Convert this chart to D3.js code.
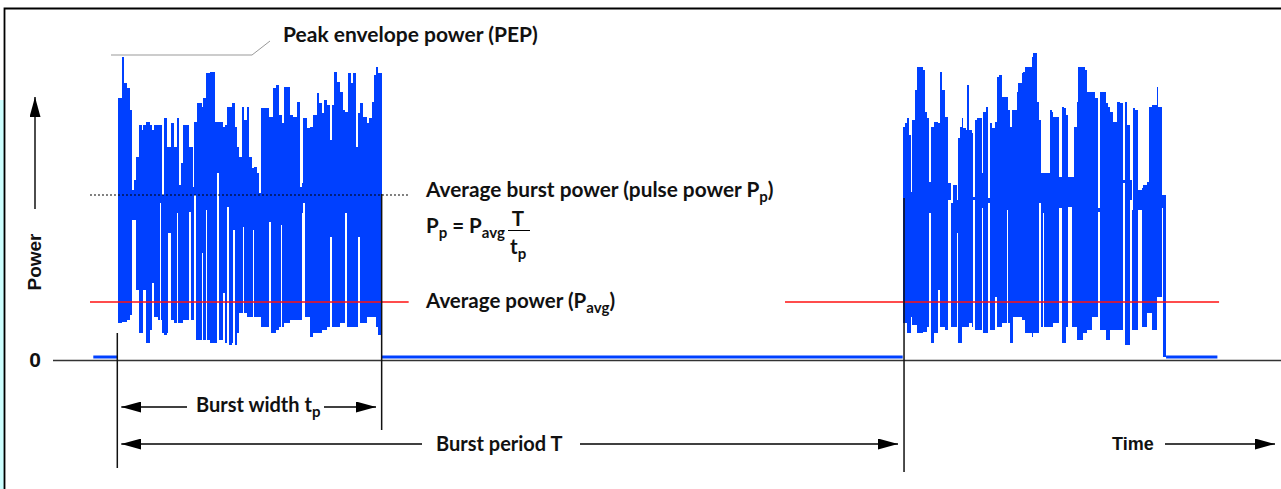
<!DOCTYPE html>
<html>
<head>
<meta charset="utf-8">
<script src="https://cdn.jsdelivr.net/npm/d3@7"></script>
<style>
body { margin: 0; background: #fff; }
svg { display: block; }
.lbl { font-family: Lato, "Open Sans", sans-serif; font-weight: 700; fill: #111; }
.ax { font-family: "Liberation Sans", Arial, sans-serif; font-weight: 700; fill: #111; }
</style>
</head>
<body>
<script>
// time in samples, power in arbitrary units
var burstPeriod = 2356;
var burstStarts = [0, 2356];

var burst1Offset = [0,3,13,20,28,38,45,51,56,65,73,78,85,98,105,111,123,128,132,135,
  140,148,153,162,170,178,182,184,190,196,206,216,220,226,231,235,240,253,258,266,
  268,278,293,300,305,316,323,330,334,343,348,352,358,366,373,376,380,388,396,403,
  406,410,418,426,430,443,456,460,466,475,485,491,495,501,513,518,528,538,548,553,
  558,562,570,578,588,598,605,613,620,630,638,644,651,660,668,676,684,688,693,700,
  708,716,721,728,738,748,756,763,770,775,781,788,790];
var burst1Top = [80,785,910,830,815,750,510,540,610,705,690,705,715,705,690,705,705,705,705,495,
  725,640,640,710,640,725,725,525,590,705,705,640,640,520,715,715,770,760,785,860,
  860,865,715,715,715,700,705,760,760,770,770,700,640,610,760,760,720,760,610,575,
  575,580,560,500,755,755,730,730,815,825,735,735,710,820,820,735,730,775,520,530,
  725,725,695,700,735,800,770,740,780,765,660,765,865,835,805,750,745,745,860,830,
  860,640,740,770,730,710,725,775,855,880,860,860,860];
var burst1Bottom = [5,110,115,115,120,135,420,420,210,80,80,210,50,90,230,130,120,470,120,80,
  75,80,380,120,110,440,110,110,110,120,120,445,120,120,495,60,60,320,60,450,
  60,50,50,560,60,200,50,460,45,50,390,45,80,140,140,400,140,130,130,130,
  390,130,130,130,100,100,415,80,80,90,100,405,100,110,110,120,120,120,120,440,
  470,130,130,70,80,80,80,90,90,100,370,100,100,100,110,110,440,100,100,100,
  100,100,370,110,110,130,130,130,130,100,75,75,5];
var burst1Width = 793;

var burst2Offset = [0,2,7,12,19,25,29,37,44,62,67,72,80,85,95,107,112,117,127,137,
  144,152,162,166,172,177,182,190,194,200,207,212,216,222,237,242,250,257,262,267,
  277,282,289,297,302,312,317,322,327,332,342,347,357,362,367,377,387,392,402,409,
  414,420,425,442,447,452,460,470,477,484,490,497,507,515,522,527,542,547,552,562,
  567,577,587,592,600,610,617,622,632,642,652,662,667,674,682,687,692,697,707,717,
  722,732,740,747,754,762,767,777,782];
var burst2Top = [130,700,710,725,675,505,720,810,880,870,745,725,535,700,715,710,865,810,730,530,
  470,525,480,665,700,725,695,690,825,690,680,490,720,725,560,745,760,485,710,695,
  715,850,855,790,790,790,750,700,750,750,805,830,860,865,880,880,910,920,775,720,
  560,560,560,750,745,730,730,550,760,755,735,550,550,700,775,880,880,870,805,805,
  805,785,455,805,805,770,760,745,715,775,770,540,775,705,540,450,755,750,510,515,
  525,535,760,765,765,820,760,495,495];
var burst2Bottom = [10,110,110,80,80,130,105,105,80,85,85,100,440,50,80,210,100,100,90,480,
  100,100,380,50,50,100,100,100,100,110,100,480,90,90,455,80,80,470,90,90,
  190,100,100,110,110,450,110,50,50,130,130,130,120,120,80,80,70,80,80,470,
  100,440,100,100,100,110,110,455,50,50,100,460,100,100,60,60,80,80,90,90,
  130,130,445,90,90,60,60,90,90,90,90,530,45,45,480,90,90,90,450,100,
  100,140,140,90,90,190,190,455,10];
var burst2Width = 790;

var idleLevel = 9;
var idleSpans = [[-72, 0], [793, 2356], [3146, 3300]];
var avgBurstPower = 495;
var avgPower = 174;
var avgBurstSpan = [-82, 877];
var avgPowerSpans = [[-82, 874], [2003, 3305]];
var maxPower = 960;

var svgWidth = 1281;
var svgHeight = 489;

var svg = d3.select("body")
            .append("svg")
            .attr("width", svgWidth)
            .attr("height", svgHeight);

var x = d3.scaleLinear().domain([0, burstPeriod]).range([117.3, 902.7]);
var y = d3.scaleLinear().domain([0, maxPower]).range([360, 40]);

// frame
svg.append("rect").attr("x", 0).attr("y", 100).attr("width", 4).attr("height", 389).attr("fill", "#ccffff");
svg.append("path").attr("d", "M4.5,489V8.5H1281").attr("fill", "none")
   .attr("stroke", "#000").attr("stroke-width", 1.8);

var defs = svg.append("defs");
defs.append("marker")
    .attr("id", "head")
    .attr("markerUnits", "userSpaceOnUse")
    .attr("markerWidth", 20).attr("markerHeight", 11)
    .attr("refX", 20).attr("refY", 5.5)
    .attr("orient", "auto")
  .append("path").attr("d", "M0,0L20,5.5L0,11Z").attr("fill", "#000");

// zero line
svg.append("line")
   .attr("x1", 53).attr("x2", svgWidth)
   .attr("y1", y(0) + 0.5).attr("y2", y(0) + 0.5)
   .attr("stroke", "#333").attr("stroke-width", 1.5);

// idle level between bursts
svg.selectAll("line.idle")
   .data(idleSpans)
   .enter()
   .append("line")
   .attr("class", "idle")
   .attr("x1", function(d) { return x(d[0]); })
   .attr("x2", function(d) { return x(d[1]); })
   .attr("y1", y(idleLevel)).attr("y2", y(idleLevel))
   .attr("stroke", "#0040ff").attr("stroke-width", 3);

function band(offsets, tops, bottoms, widthT, start) {
  var d = offsets.map(function(o, i) {
    return { t: start + o, top: tops[i], bot: bottoms[i] };
  });
  var last = d[d.length - 1];
  d.push({ t: start + widthT, top: last.top, bot: last.bot });
  return d;
}

var area = d3.area()
    .curve(d3.curveStepAfter)
    .x(function(d) { return x(d.t); })
    .y0(function(d) { return y(d.bot); })
    .y1(function(d) { return y(d.top); });

var bursts = [
  band(burst1Offset, burst1Top, burst1Bottom, burst1Width, burstStarts[0]),
  band(burst2Offset, burst2Top, burst2Bottom, burst2Width, burstStarts[1])
];

svg.selectAll("path.burst")
   .data(bursts)
   .enter()
   .append("path")
   .attr("class", "burst")
   .attr("d", area)
   .attr("fill", "#0040ff")
   .attr("shape-rendering", "crispEdges");

// average burst power (dotted)
svg.append("line")
   .attr("x1", x(avgBurstSpan[0])).attr("x2", x(avgBurstSpan[1]))
   .attr("y1", y(avgBurstPower)).attr("y2", y(avgBurstPower))
   .attr("stroke", "#000").attr("stroke-width", 1.2)
   .attr("stroke-dasharray", "2,2");

// average power (red)
svg.selectAll("line.avg")
   .data(avgPowerSpans)
   .enter()
   .append("line")
   .attr("class", "avg")
   .attr("x1", function(d) { return x(d[0]); })
   .attr("x2", function(d) { return x(d[1]); })
   .attr("y1", y(avgPower)).attr("y2", y(avgPower))
   .attr("stroke", "#ff1010").attr("stroke-width", 1.5);

// burst edge markers
var markers = [
  { t: 0, top: 81, y2: 468 },
  { t: burst1Width, top: 498, y2: 430 },
  { t: burstStarts[1] + 4, top: 486, y2: 472 }
];
svg.selectAll("line.mark")
   .data(markers)
   .enter()
   .append("line")
   .attr("class", "mark")
   .attr("x1", function(d) { return x(d.t); })
   .attr("x2", function(d) { return x(d.t); })
   .attr("y1", function(d) { return y(d.top); })
   .attr("y2", function(d) { return d.y2; })
   .attr("stroke", "#111").attr("stroke-width", 1.5);

// PEP leader
svg.append("path")
   .attr("d", "M111," + y(915) + "H252L270,41")
   .attr("fill", "none").attr("stroke", "#999").attr("stroke-width", 1);

// dimension arrows
function arrow(x1, y1, x2, y2) {
  svg.append("line")
     .attr("x1", x1).attr("y1", y1).attr("x2", x2).attr("y2", y2)
     .attr("stroke", "#000").attr("stroke-width", 1.4)
     .attr("marker-end", "url(#head)");
}
arrow(187, 407, x(0) + 4, 407);
arrow(324, 407, 376, 407);
arrow(422, 444, x(0) + 4, 444);
arrow(580, 444, 898, 444);
arrow(1165, 444, 1275, 444);
arrow(35, 209, 35, 97);

// labels
svg.append("text").attr("class", "lbl").attr("x", 283).attr("y", 42)
   .style("font-size", "21px").text("Peak envelope power (PEP)");

var t1 = svg.append("text").attr("class", "lbl").attr("x", 426).attr("y", 197).style("font-size", "20.8px");
t1.append("tspan").text("Average burst power (pulse power P");
t1.append("tspan").attr("dy", 5).style("font-size", "15px").text("p");
t1.append("tspan").attr("dy", -5).text(")");

var f = svg.append("text").attr("class", "lbl").attr("x", 426).attr("y", 233).style("font-size", "20.5px");
f.append("tspan").text("P");
f.append("tspan").attr("dy", 5).style("font-size", "15px").text("p");
f.append("tspan").attr("dy", -5).text(" = P");
f.append("tspan").attr("dy", 5).style("font-size", "15px").text("avg");
svg.append("line").attr("x1", 508).attr("x2", 530).attr("y1", 230.5).attr("y2", 230.5)
   .attr("stroke", "#000").attr("stroke-width", 1);
svg.append("text").attr("class", "lbl").attr("x", 518).attr("y", 226)
   .attr("text-anchor", "middle").style("font-size", "20.5px").text("T");
var tp = svg.append("text").attr("class", "lbl").attr("x", 510).attr("y", 254).style("font-size", "20.5px");
tp.append("tspan").text("t");
tp.append("tspan").attr("dy", 5).style("font-size", "15px").text("p");

var t2 = svg.append("text").attr("class", "lbl").attr("x", 426).attr("y", 308).style("font-size", "20.5px");
t2.append("tspan").text("Average power (P");
t2.append("tspan").attr("dy", 5).style("font-size", "15px").text("avg");
t2.append("tspan").attr("dy", -5).text(")");

var bw = svg.append("text").attr("class", "lbl").attr("x", 196).attr("y", 412).style("font-size", "20px");
bw.append("tspan").text("Burst width t");
bw.append("tspan").attr("dy", 5).style("font-size", "15px").text("p");

svg.append("text").attr("class", "lbl").attr("x", 436).attr("y", 451)
   .style("font-size", "20px").text("Burst period T");

svg.append("text").attr("class", "ax").attr("x", 1112).attr("y", 450)
   .style("font-size", "18px").text("Time");

svg.append("text").attr("class", "ax")
   .attr("transform", "translate(41,262) rotate(-90)")
   .attr("text-anchor", "middle")
   .style("font-size", "19px").text("Power");

svg.append("text").attr("class", "ax").attr("x", 35).attr("y", 367)
   .attr("text-anchor", "middle").style("font-size", "21px").text("0");
</script>
</body>
</html>
